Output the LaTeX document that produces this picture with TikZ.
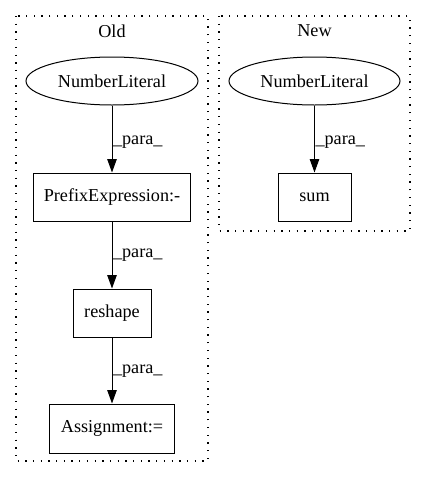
\documentclass[tikz,border=0pt]{standalone}
\usepackage{fontspec}
\setmainfont{Liberation Serif}
\usetikzlibrary{shapes.geometric,arrows.meta}
\begin{document}
\begin{tikzpicture}[x=1pt,y=-1pt,
  every node/.style={font=\fontsize{18.2}{22}\selectfont, inner sep=0pt},
  box/.style={draw, line width=1pt, rectangle, minimum height=48pt},
  oval/.style={draw, line width=1pt, ellipse, minimum height=48pt},
  cluster/.style={draw, line width=1.3pt, dash pattern=on 1.3pt off 6.4pt},
  edge/.style={draw, line width=1pt, -{Triangle[length=13.5pt,width=9.5pt]}},
  lab/.style={anchor=west, inner sep=0pt}]
\useasboundingbox (0,0) rectangle (427,480);
\fill[white] (0,0) rectangle (427,480);
% clusters
\draw[cluster] (16,16) rectangle (208,461);
\draw[cluster] (219,16) rectangle (410,231);
\node (tOld) at (112,31) {Old};
\node (tNew) at (314.5,31) {New};
% old nodes
\node[oval, minimum width=172pt] (oldnum) at (112,81) {NumberLiteral};
\node[box, minimum width=157pt] (prefix) at (112,197) {PrefixExpression:-};
\node[box, minimum width=78pt] (reshape) at (112,313) {reshape};
\node[box, minimum width=125pt, minimum height=49pt] (assign) at (112,428.5) {Assignment:=};
% new nodes
\node[oval, minimum width=171pt] (newnum) at (314.5,81) {NumberLiteral};
\node[box, minimum width=73pt] (sum) at (314.5,197) {sum};
% edges
\draw[edge] (oldnum) -- (prefix) node[lab, pos=0.5, xshift=0.5pt, yshift=-3pt] {\_para\_};
\draw[edge] (prefix) -- (reshape) node[lab, pos=0.5, xshift=0.5pt] {\_para\_};
\draw[edge] (reshape) -- (assign) node[lab, pos=0.5, xshift=0.5pt, yshift=-1pt] {\_para\_};
\draw[edge] (newnum) -- (sum) node[lab, pos=0.5, xshift=0.5pt, yshift=-3pt] {\_para\_};
\end{tikzpicture}
\end{document}
